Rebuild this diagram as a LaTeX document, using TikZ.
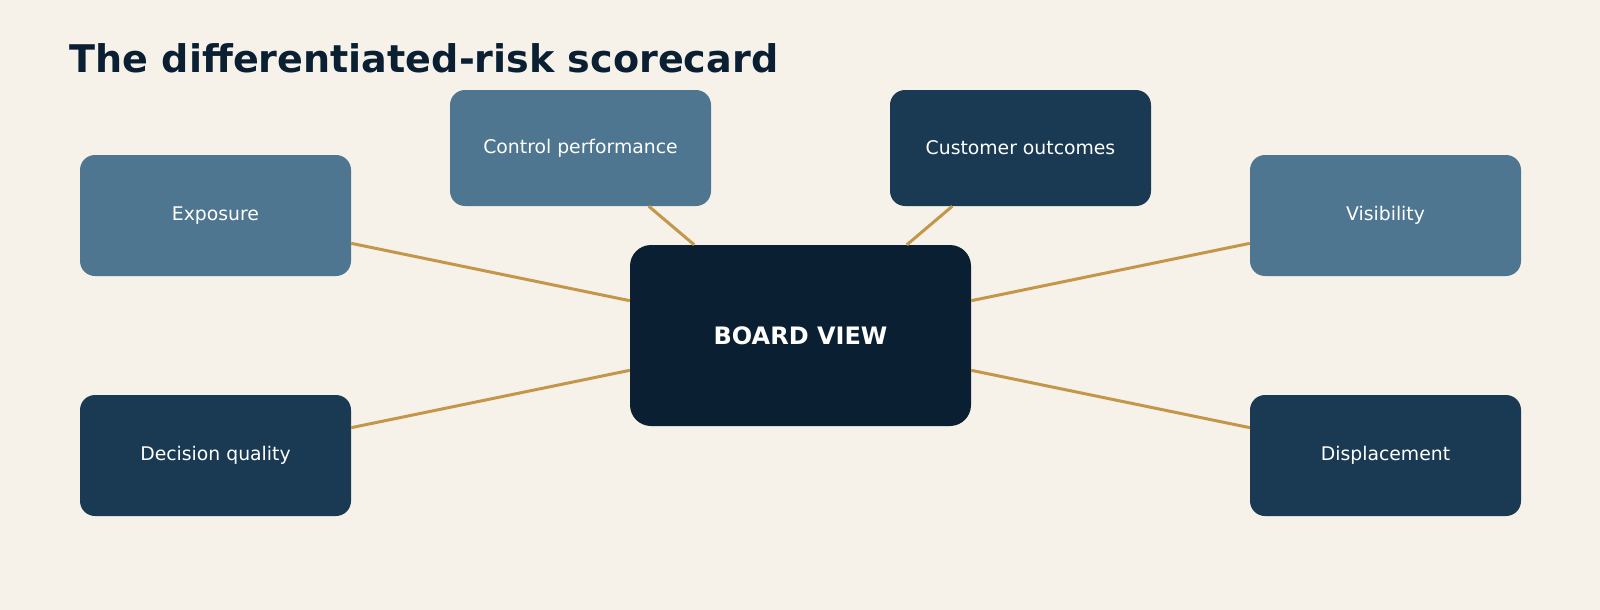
\documentclass[tikz,border=0pt]{standalone}
\usepackage{fontspec}
\setmainfont{DejaVu Sans}
\definecolor{bgc}{HTML}{F6F2EA}
\definecolor{lightbox}{HTML}{4E7690}
\definecolor{darkbox}{HTML}{1A3A54}
\definecolor{boardc}{HTML}{0B1F33}
\definecolor{goldc}{HTML}{C4964A}
\definecolor{titlec}{HTML}{0B1F33}
\begin{document}
\begin{tikzpicture}[x=1pt,y=-1pt,
  pillar/.style={rounded corners=15pt, minimum width=271pt, minimum height=121pt, inner sep=0pt, text=white, font=\fontsize{18.8}{22}\selectfont},
  lightpillar/.style={pillar, fill=lightbox},
  darkpillar/.style={pillar, fill=darkbox},
  topbox/.style={minimum width=261pt, minimum height=116pt},
  hub/.style={rounded corners=21pt, fill=boardc, minimum width=341pt, minimum height=181pt, inner sep=0pt, text=white, font=\fontsize{24}{28}\selectfont\bfseries},
  link/.style={draw=goldc, line width=3pt}
]
\fill[bgc] (0,0) rectangle (1600,610);
\useasboundingbox (0,0) rectangle (1600,610);
\node[anchor=base west, text=titlec, font=\fontsize{38.1}{44}\selectfont\bfseries, inner sep=0pt] (title) at (69.5,72) {The differentiated-risk scorecard};
\node[hub] (board) at (800.5,335.5) {BOARD VIEW};
\node[lightpillar] (exposure) at (215.5,215.5) {Exposure};
\node[darkpillar] (decision) at (215.5,455.5) {Decision quality};
\node[lightpillar] (visibility) at (1385.5,215.5) {Visibility};
\node[darkpillar] (displacement) at (1385.5,455.5) {Displacement};
\node[lightpillar, topbox] (control) at (580.5,148) {Control performance};
\node[darkpillar, topbox] (customer) at (1020.5,148) {Customer outcomes};
\draw[link] (board) -- (exposure);
\draw[link] (board) -- (decision);
\draw[link] (board) -- (visibility);
\draw[link] (board) -- (displacement);
\draw[link] (board) -- (control);
\draw[link] (board) -- (customer);
\end{tikzpicture}
\end{document}
